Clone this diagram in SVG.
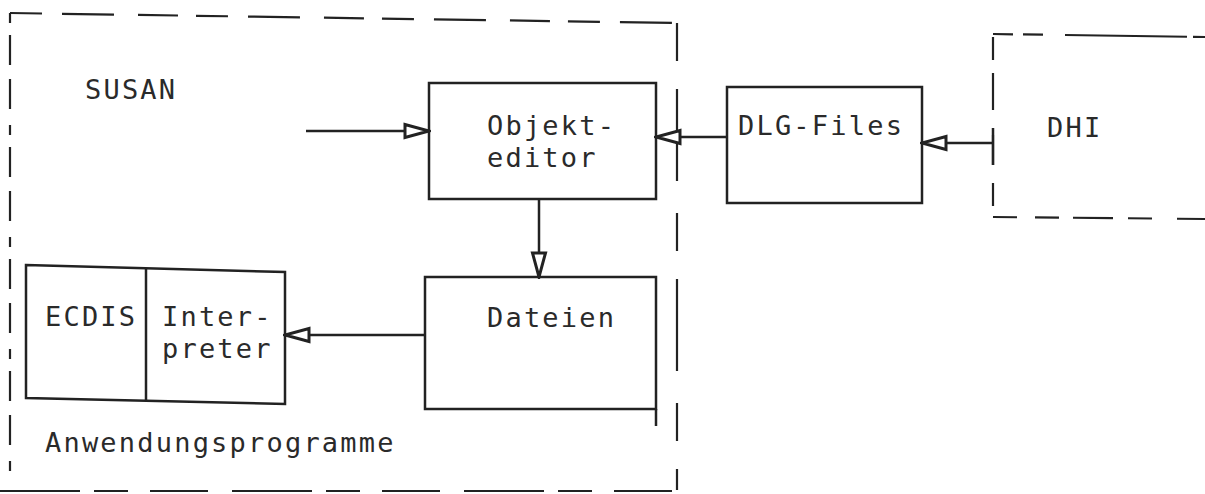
<svg xmlns="http://www.w3.org/2000/svg" width="1205" height="494" viewBox="0 0 1205 494">
  <style>
    .t { font-family: "DejaVu Sans Mono", "Liberation Mono", monospace; font-size: 27px; letter-spacing: 2.2px; fill: #2a2a2a; }
    .box { fill: none; stroke: #222; stroke-width: 2.5; }
    .dash { fill: none; stroke: #222; stroke-width: 2.2; }
    .con { fill: none; stroke: #222; stroke-width: 2.5; marker-end: url(#arr); }
  </style>
  <defs>
    <marker id="arr" viewBox="-2 -2 28 18" refX="24" refY="7" markerWidth="28" markerHeight="18" markerUnits="userSpaceOnUse" orient="auto">
      <path d="M0,0.5 L24,7 L0,13.5 Z" fill="#fff" stroke="#222" stroke-width="3"/>
    </marker>
  </defs>
  <rect width="1205" height="494" fill="#fff"/>

  <g id="susan">
    <line class="dash" x1="10" y1="13" x2="680" y2="23" stroke-dasharray="32 20 52 24 40 18"/>
    <line class="dash" x1="10" y1="13" x2="10" y2="482" stroke-dasharray="10 12 30 14 30 16"/>
    <line class="dash" x1="677" y1="23" x2="677" y2="490" stroke-dasharray="38 28 92 32"/>
    <line class="dash" x1="0" y1="491" x2="680" y2="491" stroke-width="4.5" stroke-dasharray="80 14 34 22 58 24"/>
    <text class="t" x="85" y="99">SUSAN</text>
    <text class="t" x="45" y="452">Anwendungsprogramme</text>
  </g>

  <g id="objekteditor">
    <rect class="box" x="429" y="83" width="227" height="116"/>
    <text class="t" x="487" y="135">Objekt-</text>
    <text class="t" x="487" y="167">editor</text>
  </g>

  <g id="dlg-files">
    <rect class="box" x="727" y="87" width="195" height="116"/>
    <text class="t" x="738" y="135">DLG-Files</text>
  </g>

  <g id="dhi">
    <path class="dash" d="M993,34 L1205,37" stroke-dasharray="20 10 20 22 122 6 14"/>
    <path class="dash" d="M993,217 L1205,219" stroke-dasharray="24 18 24 14 40 15 24 25 30"/>
    <path class="dash" d="M993,37 L993,217" stroke-dasharray="23 13 37 25 30 18 23"/>
    <text class="t" x="1047" y="137">DHI</text>
  </g>

  <g id="dateien">
    <rect class="box" x="425" y="277" width="231" height="132"/>
    <line class="box" x1="656" y1="409" x2="656" y2="426"/>
    <text class="t" x="487" y="327">Dateien</text>
  </g>

  <g id="ecdis-interpreter">
    <path class="box" d="M26,265 L285,272 L285,404 L26,398 Z"/>
    <line class="box" x1="146" y1="268" x2="146" y2="401"/>
    <text class="t" x="45" y="326">ECDIS</text>
    <text class="t" x="162" y="326">Inter-</text>
    <text class="t" x="162" y="358">preter</text>
  </g>

  <g id="connectors">
    <line class="con" x1="306" y1="131" x2="429" y2="131"/>
    <line class="con" x1="727" y1="137" x2="656" y2="137"/>
    <line class="con" x1="993" y1="143" x2="922" y2="143"/>
    <line class="box" x1="993" y1="128" x2="993" y2="165"/>
    <line class="con" x1="539" y1="199" x2="539" y2="277"/>
    <line class="con" x1="425" y1="335" x2="285" y2="335"/>
  </g>
</svg>
